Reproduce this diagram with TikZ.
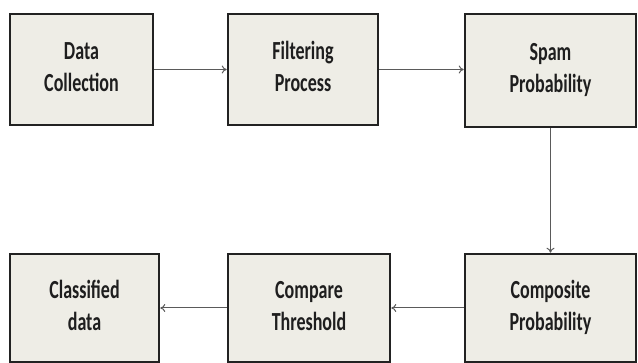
\documentclass[tikz,border=0pt]{standalone}
\usepackage{fontspec}
\setmainfont{Carlito}
\usepackage{graphicx}
\usetikzlibrary{arrows.meta}
\definecolor{boxfill}{HTML}{EEEDE6}
\definecolor{boxline}{HTML}{222222}
\definecolor{txt}{HTML}{1E1E1E}
\definecolor{arr}{HTML}{5A5A5A}
\newcommand{\talltext}[1]{\scalebox{1}[1.45]{\begin{tabular}{@{}c@{}}#1\end{tabular}}}
\begin{document}
\begin{tikzpicture}[x=1pt,y=-1pt,
  blk/.style={draw=boxline, line width=2.6pt, fill=boxfill, rectangle, inner sep=0pt,
    text=txt, font=\fontsize{18}{22}\selectfont\bfseries},
  conn/.style={draw=arr, line width=1pt, -{To[length=5pt,width=8pt]}}]
\path[use as bounding box] (0,0) rectangle (638,363);
\fill[white] (0,0) rectangle (638,363);
\node[blk, minimum width=143pt, minimum height=111pt] (dc) at (81.5,69.5) {\talltext{Data\\Collection}};
\node[blk, minimum width=150pt, minimum height=111pt] (fp) at (303,69.5) {\talltext{Filtering\\Process}};
\node[blk, minimum width=171pt, minimum height=113pt] (sp) at (550.5,70.5) {\talltext{Spam\\Probability}};
\node[blk, minimum width=171pt, minimum height=108pt] (cp) at (550.5,308) {\talltext{Composite\\Probability}};
\node[blk, minimum width=162pt, minimum height=108pt] (ct) at (309,308) {\talltext{Compare\\Threshold}};
\node[blk, minimum width=149pt, minimum height=108pt] (cd) at (84.5,308) {\talltext{Classified\\data}};
\draw[conn] (dc.east) -- (fp.west);
\draw[conn] (fp.east) -- (fp.east -| sp.west);
\draw[conn] (sp.south) -- (cp.north);
\draw[conn] (cp.west) -- (ct.east);
\draw[conn] (ct.west) -- (cd.east);
\end{tikzpicture}
\end{document}
